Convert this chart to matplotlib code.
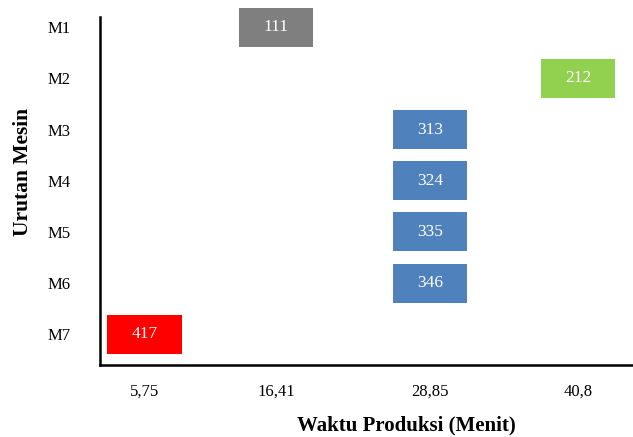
import matplotlib
matplotlib.use("Agg")
import matplotlib.pyplot as plt

# data
machines = ["M1", "M2", "M3", "M4", "M5", "M6", "M7"]
job_labels = ["111", "212", "313", "324", "335", "346", "417"]
times = [16.41, 40.8, 28.85, 28.85, 28.85, 28.85, 5.75]
tick_values = [5.75, 16.41, 28.85, 40.8]
tick_labels = ["5,75", "16,41", "28,85", "40,8"]
colors = ["#7F7F7F", "#92D050", "#4F81BD", "#4F81BD", "#4F81BD", "#4F81BD", "#FF0000"]

plt.rcParams['font.family'] = ['Liberation Serif', 'DejaVu Serif']

fig = plt.figure(figsize=(6.33, 4.37), dpi=100)
ax = fig.add_axes([100 / 633, 1 - 365 / 437, 533 / 633, 348 / 437])

bar_w = 6.0
rows = list(range(len(machines)))
for r, t, lab, c in zip(rows, times, job_labels, colors):
    ax.barh(r, bar_w, left=t - bar_w / 2, height=0.76, color=c, clip_on=False)
    ax.text(t, r, lab, ha='center', va='center', color='white', fontsize=12.5)

ax.set_xlim(2.15, 45.25)
ax.set_ylim(6.6, -0.2)
ax.set_yticks(rows)
ax.set_yticklabels(machines, fontsize=12)
ax.set_xticks(tick_values)
ax.set_xticklabels(tick_labels, fontsize=12)
ax.tick_params(axis='both', length=0)
ax.tick_params(axis='x', pad=13.5)
ax.tick_params(axis='y', pad=21)

for s in ['top', 'right']:
    ax.spines[s].set_visible(False)
for s in ['left', 'bottom']:
    ax.spines[s].set_linewidth(1.8)

ax.set_xlabel("Waktu Produksi (Menit)", fontsize=15, fontweight='bold')
ax.set_ylabel("Urutan Mesin", fontsize=15.5, fontweight='bold')
ax.xaxis.set_label_coords(0.574, -0.144)
ax.yaxis.set_label_coords(-0.125, 0.555)

fig.savefig("out.png", dpi=100)
